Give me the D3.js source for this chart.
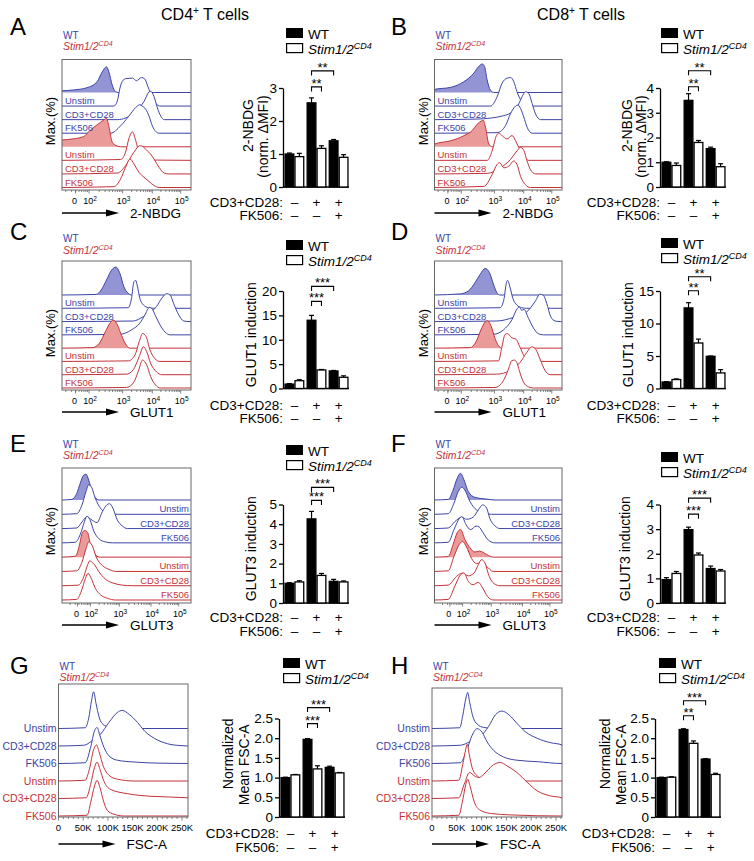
<!DOCTYPE html>
<html>
<head>
<meta charset="utf-8">
<script src="https://cdn.jsdelivr.net/npm/d3@7"></script>
<style>
  body { margin: 0; background: #fff; }
  svg { display: block; font-family: "Liberation Sans", Arial, Helvetica, sans-serif; }
</style>
</head>
<body>
<svg id="fig" width="754" height="861"></svg>
<script>
// ---- data ----
var condLabels = ["Unstim", "CD3+CD28", "FK506"];
var groups = ["unstim", "cd3", "fk506"];
var cd3Signs = ["–", "+", "+"];
var fkSigns = ["–", "–", "+"];

// bar values (mean, sem)
var wtA = [1.0, 2.55, 1.4],  wtErrA = [0.03, 0.15, 0.04], koA = [0.92, 1.17, 0.9],  koErrA = [0.1, 0.08, 0.08];
var wtB = [1.0, 3.5, 1.55],  wtErrB = [0.02, 0.27, 0.06], koB = [0.87, 1.8, 0.82],  koErrB = [0.1, 0.08, 0.12];
var wtC = [0.9, 14.0, 3.6],  wtErrC = [0.1, 1.0, 0.1],    koC = [1.6, 3.8, 2.3],    koErrC = [0.2, 0.1, 0.3];
var wtD = [1.0, 12.4, 4.95], wtErrD = [0.05, 0.8, 0.05],  koD = [1.38, 7.0, 2.4],   koErrD = [0.1, 0.6, 0.5];
var wtE = [1.0, 4.27, 1.1],  wtErrE = [0.03, 0.38, 0.1],  koE = [1.07, 1.4, 1.07],  koErrE = [0.06, 0.1, 0.05];
var wtF = [0.95, 2.98, 1.4], wtErrF = [0.08, 0.1, 0.1],   koF = [1.2, 1.95, 1.3],   koErrF = [0.08, 0.08, 0.06];
var wtG = [1.0, 1.97, 1.26], wtErrG = [0.01, 0.02, 0.03], koG = [1.07, 1.22, 1.12], koErrG = [0.01, 0.08, 0.01];
var wtH = [1.0, 2.22, 1.47], wtErrH = [0.01, 0.02, 0.01], koH = [1.01, 1.87, 1.08], koErrH = [0.01, 0.06, 0.03];

// histograms: [log10 intensity (or FSC in K), % of max]
// order: WT control(filled), WT Unstim, WT CD3+CD28, WT FK506, KO control(filled), KO Unstim, KO CD3+CD28, KO FK506
var histA = [
  [[1.19,6],[1.54,9],[1.94,17],[2.24,38],[2.39,72],[2.52,90],[2.59,72],[2.69,26],[2.79,3],[2.89,0]],
  [[2.74,0],[2.84,17],[2.92,63],[2.99,87],[3.10,96],[3.33,98],[3.47,89],[3.63,100],[3.74,96],[3.85,69],[4.0,28],[4.12,8],[4.3,0]],
  [[2.84,0],[3.38,23],[3.72,64],[3.89,97],[3.94,100],[4.06,81],[4.18,41],[4.30,12],[4.42,0]],
  [[2.64,0],[2.94,26],[3.21,60],[3.44,90],[3.58,100],[3.66,95],[3.78,84],[3.89,60],[4.0,26],[4.12,6],[4.24,0]],
  [[1.19,24],[1.54,28],[1.84,36],[2.04,59],[2.24,77],[2.44,94],[2.52,100],[2.59,71],[2.69,16],[2.79,5],[2.94,0]],
  [[2.94,3],[3.10,29],[3.21,76],[3.33,100],[3.44,70],[3.55,29],[3.66,17],[3.83,8],[4.06,1]],
  [[2.84,3],[3.10,29],[3.38,76],[3.58,99],[3.66,97],[3.83,81],[3.94,70],[4.06,52],[4.24,23],[4.42,3],[4.6,0]],
  [[2.74,3],[2.94,30],[3.10,71],[3.25,100],[3.38,83],[3.55,53],[3.72,36],[3.89,21],[4.06,7],[4.24,0]]
];
var histB = [
  [[1.2,11],[1.68,18],[2.08,38],[2.38,68],[2.53,92],[2.63,100],[2.70,92],[2.78,44],[2.88,8],[2.98,0]],
  [[2.88,0],[3.09,32],[3.26,80],[3.43,98],[3.55,100],[3.66,86],[3.77,50],[3.94,14],[4.12,0]],
  [[2.48,2],[3.32,14],[3.77,44],[3.94,80],[4.06,98],[4.18,92],[4.30,56],[4.42,20],[4.6,0]],
  [[3.09,2],[3.38,27],[3.55,69],[3.72,95],[3.80,99],[3.89,87],[4.0,57],[4.12,21],[4.30,0]],
  [[1.2,10],[1.68,21],[2.08,39],[2.33,57],[2.48,79],[2.60,90],[2.66,93],[2.73,69],[2.83,10],[2.93,0]],
  [[2.78,0],[2.93,33],[3.07,87],[3.15,95],[3.26,87],[3.43,75],[3.60,87],[3.72,69],[3.83,45],[4.0,15],[4.18,0]],
  [[2.78,2],[3.2,21],[3.55,51],[3.77,81],[3.89,93],[4.0,83],[4.12,45],[4.24,15],[4.42,0]],
  [[2.68,4],[2.93,45],[3.09,81],[3.18,87],[3.32,69],[3.49,75],[3.66,93],[3.77,81],[3.89,39],[4.06,10],[4.24,0]]
];
var histC = [
  [[2.21,2],[2.36,18],[2.52,54],[2.67,89],[2.80,100],[2.92,77],[3.04,30],[3.19,6],[3.30,0]],
  [[3.19,2],[3.30,36],[3.38,95],[3.44,100],[3.49,83],[3.58,36],[3.70,12],[3.87,2],[4.04,0]],
  [[3.36,2],[3.70,18],[3.98,36],[4.15,54],[4.33,83],[4.51,100],[4.63,95],[4.75,65],[4.93,24],[5.11,2],[5.29,0]],
  [[2.92,2],[3.30,18],[3.58,42],[3.75,71],[3.90,98],[3.98,95],[4.10,71],[4.27,36],[4.45,10],[4.63,0]],
  [[2.11,2],[2.31,18],[2.49,60],[2.62,89],[2.72,100],[2.82,89],[2.94,54],[3.08,18],[3.25,0]],
  [[3.19,2],[3.42,24],[3.56,71],[3.67,100],[3.79,89],[3.92,42],[4.09,10],[4.27,0]],
  [[3.13,2],[3.36,18],[3.56,65],[3.70,100],[3.81,83],[3.94,42],[4.15,10],[4.33,0]],
  [[3.13,2],[3.36,18],[3.53,60],[3.67,100],[3.81,83],[3.94,42],[4.12,10],[4.27,0]]
];
var histD = [
  [[1.97,4],[2.22,15],[2.42,45],[2.57,74],[2.72,95],[2.85,80],[2.97,39],[3.08,9],[3.19,0]],
  [[3.19,2],[3.33,35],[3.40,88],[3.45,100],[3.53,76],[3.63,35],[3.76,12],[3.93,2],[4.11,0]],
  [[3.08,2],[3.65,15],[4.11,35],[4.40,71],[4.58,98],[4.70,94],[4.82,65],[4.96,18],[5.12,2],[5.30,0]],
  [[2.97,2],[3.31,18],[3.59,53],[3.78,94],[3.85,100],[3.93,88],[4.01,91],[4.17,59],[4.35,24],[4.52,4],[4.70,0]],
  [[2.27,2],[2.45,24],[2.59,65],[2.72,94],[2.79,98],[2.89,82],[3.02,35],[3.14,8],[3.25,0]],
  [[3.14,2],[3.25,49],[3.36,96],[3.44,100],[3.59,85],[3.74,79],[3.88,49],[4.01,20],[4.17,5],[4.29,0]],
  [[3.08,2],[3.53,15],[3.88,45],[4.11,80],[4.29,100],[4.44,89],[4.58,56],[4.76,15],[4.94,0]],
  [[3.02,2],[3.31,27],[3.48,68],[3.59,98],[3.68,100],[3.76,92],[3.85,62],[3.99,21],[4.17,4],[4.35,0]]
];
var histE = [
  [[1.36,2],[1.53,22],[1.65,56],[1.77,83],[1.85,86],[1.94,67],[2.06,28],[2.17,8],[2.29,0]],
  [[1.53,2],[1.71,31],[1.85,76],[1.94,98],[2.03,92],[2.17,53],[2.35,20],[2.52,6],[2.76,0]],
  [[1.53,2],[1.71,22],[1.88,39],[2.06,28],[2.23,20],[2.41,56],[2.58,80],[2.66,83],[2.78,67],[2.93,28],[3.09,9],[3.25,0]],
  [[1.48,2],[1.65,28],[1.80,72],[1.88,89],[1.98,78],[2.12,39],[2.29,14],[2.52,3],[2.76,0]],
  [[1.48,3],[1.62,39],[1.71,78],[1.80,89],[1.90,83],[2.0,44],[2.12,17],[2.23,3],[2.35,0]],
  [[1.53,2],[1.71,31],[1.85,76],[1.94,98],[2.06,87],[2.20,48],[2.41,20],[2.64,7],[2.87,0]],
  [[1.59,2],[1.77,30],[1.91,71],[1.98,83],[2.06,78],[2.15,69],[2.29,47],[2.52,22],[2.81,8],[3.09,2],[3.41,0]],
  [[1.53,2],[1.69,30],[1.83,72],[1.92,89],[2.03,72],[2.17,39],[2.35,17],[2.58,6],[2.87,0]]
];
var histF = [
  [[1.5,2],[1.67,33],[1.81,72],[1.93,89],[2.05,67],[2.20,28],[2.43,9],[2.84,3],[3.12,0]],
  [[1.5,2],[1.70,37],[1.85,76],[1.97,90],[2.08,81],[2.26,42],[2.49,14],[2.72,3],[3.01,0]],
  [[1.5,2],[1.73,23],[1.97,38],[2.14,31],[2.37,38],[2.55,62],[2.70,79],[2.84,68],[2.95,34],[3.12,9],[3.28,0]],
  [[1.5,2],[1.70,44],[1.88,80],[1.98,87],[2.12,61],[2.28,44],[2.47,56],[2.58,53],[2.72,33],[2.90,9],[3.12,0]],
  [[1.5,2],[1.67,42],[1.81,81],[1.93,92],[2.08,59],[2.26,31],[2.43,17],[2.60,20],[2.84,9],[3.06,0]],
  [[1.5,2],[1.70,50],[1.88,89],[2.0,100],[2.14,81],[2.31,44],[2.49,26],[2.66,30],[2.84,17],[3.06,0]],
  [[1.5,2],[1.79,31],[2.0,42],[2.20,33],[2.40,42],[2.55,70],[2.66,87],[2.78,76],[2.93,31],[3.09,7],[3.28,0]],
  [[1.5,2],[1.73,46],[1.93,84],[2.05,90],[2.20,62],[2.37,51],[2.55,59],[2.70,40],[2.87,12],[3.06,0]]
];
// FSC-A (in K), order: WT Unstim, WT CD3+CD28, WT FK506, KO Unstim, KO CD3+CD28, KO FK506
var histG = [
  [[54,2],[61,27],[67,77],[71,100],[76,68],[82,32],[88,14],[99,5],[116,0]],
  [[51,2],[68,14],[85,32],[102,64],[119,91],[129,97],[143,86],[160,64],[174,41],[194,21],[221,6],[248,1],[262,0]],
  [[54,2],[65,44],[73,89],[78,98],[84,75],[92,44],[102,21],[119,9],[153,4],[201,1],[262,0]],
  [[54,2],[63,35],[71,85],[77,98],[82,80],[91,39],[102,16],[119,5],[153,0]],
  [[56,2],[65,38],[73,85],[78,99],[84,79],[92,47],[105,25],[140,13],[187,6],[262,2]],
  [[58,2],[65,36],[73,82],[78,97],[84,77],[91,41],[99,15],[112,5],[133,0]]
];
var histH = [
  [[56,2],[62,35],[68,80],[72,98],[76,71],[83,30],[91,12],[104,3],[124,0]],
  [[57,2],[77,12],[97,25],[114,53],[128,85],[141,95],[155,85],[171,62],[188,39],[212,21],[239,9],[262,3]],
  [[57,2],[69,32],[81,77],[91,95],[101,85],[111,59],[124,36],[144,18],[171,9],[212,5],[262,0]],
  [[54,2],[62,45],[68,86],[71,100],[75,73],[81,36],[91,14],[104,5],[124,0]],
  [[54,2],[65,39],[76,71],[85,62],[94,57],[111,75],[124,92],[138,98],[151,89],[171,71],[192,44],[212,21],[239,7],[262,2]],
  [[54,2],[62,44],[68,85],[72,100],[77,80],[85,39],[97,16],[118,7],[158,3],[262,0]]
];
var fscTicks = [0, 50, 100, 150, 200, 250];
var logTicks = [2, 3, 4, 5];

// ---- styles / layout ----
var BLUE = "#3c44a6", RED = "#c43239", BLUE_FILL = "#9394d4", RED_FILL = "#eb9a9a";

var logAxes = {
  log4: { dom: [1.19, 2, 3, 4, 5, 5.36], frac: [0, .21, .47, .70, .92, 1], zero: .105 },
  log3: { dom: [1.02, 2, 3, 4, 5, 5.44], frac: [0, .22, .445, .69, .905, 1], zero: .12 }
};

var cols = [
  { letter: 10, hx0: 62, hx1: 191, ax: 283, leg: 286, maxX: 54.5 },
  { letter: 391, hx0: 434.5, hx1: 562, ax: 660, leg: 661, maxX: 428 }
];
var rows = [
  { letter: 35, wt: 39, stim: 49.5, top: 59.5, bottom: 190, s0: 92.5, sN: 187.5, y0: 187, y1: 88, arrow: 213, xl1: 207, xl2: 220, maxY: 121 },
  { letter: 240, wt: 242, stim: 254, top: 261, bottom: 390, s0: 295, sN: 388, y0: 388.5, y1: 291, arrow: 412, xl1: 410, xl2: 423, maxY: 333 },
  { letter: 452, wt: 447.5, stim: 459, top: 468, bottom: 603, s0: 500, sN: 600, y0: 603, y1: 504.5, arrow: 625, xl1: 622, xl2: 636, maxY: 531 },
  { letter: 674, wt: 670, stim: 681, top: 684, bottom: 817, s0: 728.5, sN: 816, y0: 817, y1: 718.5, arrow: 844, xl1: 838, xl2: 852 }
];

var panels = [
  { id: "A", col: 0, row: 0, hist: histA, axis: "log4", lab: "left", xTitle: "2-NBDG",
    wt: wtA, wtErr: wtErrA, ko: koA, koErr: koErrA, yMax: 3, yStep: 1, leg: 28,
    yTitle: ["2-NBDG", "(norm. ΔMFI)"], yTitleX: [253, 268], yTitleOff: [-12, -1], stars: ["**", "**"], gaps: [11, 27] },
  { id: "B", col: 1, row: 0, hist: histB, axis: "log4", lab: "left", xTitle: "2-NBDG",
    wt: wtB, wtErr: wtErrB, ko: koB, koErr: koErrB, yMax: 4, yStep: 1, leg: 28,
    yTitle: ["2-NBDG", "(norm. ΔMFI)"], yTitleX: [632, 646], yTitleOff: [-12, -1], stars: ["**", "**"], gaps: [7, 23] },
  { id: "C", col: 0, row: 1, hist: histC, axis: "log4", lab: "left", xTitle: "GLUT1",
    wt: wtC, wtErr: wtErrC, ko: koC, koErr: koErrC, yMax: 20, yStep: 5, leg: 240,
    yTitle: ["GLUT1 induction"], yTitleX: [256], yTitleOff: [-5], stars: ["***", "***"], gaps: [14, 29] },
  { id: "D", col: 1, row: 1, hist: histD, axis: "log4", lab: "left", xTitle: "GLUT1",
    wt: wtD, wtErr: wtErrD, ko: koD, koErr: koErrD, yMax: 15, yStep: 5, leg: 238,
    yTitle: ["GLUT1 induction"], yTitleX: [633], yTitleOff: [-5], stars: ["**", "**"], gaps: [12, 26] },
  { id: "E", col: 0, row: 2, hist: histE, axis: "log3", lab: "right", xTitle: "GLUT3",
    wt: wtE, wtErr: wtErrE, ko: koE, koErr: koErrE, yMax: 5, yStep: 1, leg: 445,
    yTitle: ["GLUT3 induction"], yTitleX: [256], yTitleOff: [-5], stars: ["***", "***"], gaps: [11, 24] },
  { id: "F", col: 1, row: 2, hist: histF, axis: "log3", lab: "right", xTitle: "GLUT3",
    wt: wtF, wtErr: wtErrF, ko: koF, koErr: koErrF, yMax: 4, yStep: 1, leg: 452,
    yTitle: ["GLUT3 induction"], yTitleX: [629.5], yTitleOff: [-5], stars: ["***", "***"], gaps: [13, 29] },
  { id: "G", col: 0, row: 3, hist: histG, axis: "lin", lab: "outside", xTitle: "FSC-A",
    wt: wtG, wtErr: wtErrG, ko: koG, koErr: koErrG, yMax: 2.5, yStep: 0.5, leg: 658,
    yTitle: ["Normalized", "Mean FSC-A"], yTitleX: [233, 249], yTitleOff: [-14, -3], stars: ["***", "***"], gaps: [15, 31],
    hx0: 58.5, hx1: 188, ax: 279, leg_x: 283 },
  { id: "H", col: 1, row: 3, hist: histH, axis: "lin", lab: "outside", xTitle: "FSC-A",
    wt: wtH, wtErr: wtErrH, ko: koH, koErr: koErrH, yMax: 2.5, yStep: 0.5, leg: 658,
    yTitle: ["Normalized", "Mean FSC-A"], yTitleX: [610, 626], yTitleOff: [-14, -3], stars: ["**", "***"], gaps: [13, 28],
    hx0: 432, hx1: 562, ax: 655, leg_x: 659, top: 688 }
];

var svg = d3.select("#fig");

function supLabel(t, base, sup, supSize, shift, after) {
  t.append("tspan").text(base);
  t.append("tspan").attr("dy", -shift).attr("font-size", supSize).text(sup);
  if (after) t.append("tspan").attr("dy", shift).text(after);
}

// column titles
supLabel(svg.append("text").attr("x", 205).attr("y", 20).attr("text-anchor", "middle").attr("font-size", 16), "CD4", "+", 10, 6, " T cells");
supLabel(svg.append("text").attr("x", 581).attr("y", 20).attr("text-anchor", "middle").attr("font-size", 16), "CD8", "+", 10, 6, " T cells");

panels.forEach(function(p) {
  var c = cols[p.col], r = rows[p.row];
  var g = svg.append("g");
  var hx0 = p.hx0 || c.hx0, hx1 = p.hx1 || c.hx1;
  var top = p.top || r.top;

  g.append("text").attr("x", c.letter).attr("y", r.letter).attr("font-size", 24).text(p.id);

  // WT / Stim header
  g.append("text").attr("x", hx0 + 1).attr("y", r.wt).attr("font-size", 10).attr("fill", BLUE).text("WT");
  supLabel(g.append("text").attr("x", hx0 + 1).attr("y", r.stim).attr("font-size", 10.5)
    .attr("font-style", "italic").attr("fill", RED), "Stim1/2", "CD4", 7, 4);

  // ---- histogram ----
  var x;
  if (p.axis === "lin") {
    x = d3.scaleLinear().domain([0, 262.144]).range([hx0, hx1]);
  } else {
    var la = logAxes[p.axis];
    x = d3.scaleLinear().domain(la.dom).range(la.frac.map(function(f) { return hx0 + f * (hx1 - hx0); }));
  }
  var dom = x.domain(), dMin = dom[0], dMax = dom[dom.length - 1];
  var n = p.hist.length;
  var sp = (r.sN - r.s0) / (n - 1);
  var hMax = 2.1 * sp;

  var clipId = "clip" + p.id;
  g.append("clipPath").attr("id", clipId).append("rect")
    .attr("x", hx0).attr("y", top).attr("width", hx1 - hx0).attr("height", r.bottom - top);
  var hg = g.append("g").attr("clip-path", "url(#" + clipId + ")");

  p.hist.forEach(function(curve, i) {
    var base = r.s0 + i * sp;
    var isWT = i < n / 2;
    var filled = p.axis !== "lin" && i % 4 === 0;
    var pts = curve.slice();
    if (pts[0][0] > dMin) pts.unshift([dMin, 0]);
    if (pts[pts.length - 1][0] < dMax) pts.push([dMax, 0]);
    var yv = function(d) { return base - d[1] / 100 * hMax; };
    var area = d3.area().x(function(d) { return x(d[0]); }).y0(base).y1(yv).curve(d3.curveMonotoneX);
    var line = d3.line().x(function(d) { return x(d[0]); }).y(yv).curve(d3.curveMonotoneX);
    hg.append("path").attr("d", area(pts))
      .attr("fill", filled ? (isWT ? BLUE_FILL : RED_FILL) : "#fff");
    hg.append("path").attr("d", line(pts)).attr("fill", "none")
      .attr("stroke", isWT ? BLUE : RED).attr("stroke-width", 1);
  });

  g.append("rect").attr("x", hx0).attr("y", top).attr("width", hx1 - hx0).attr("height", r.bottom - top)
    .attr("fill", "none").attr("stroke", "#666").attr("stroke-width", 1);

  // condition labels
  p.hist.forEach(function(curve, i) {
    var base = r.s0 + i * sp;
    var isWT = i < n / 2;
    var name;
    if (p.axis === "lin") name = condLabels[i % 3];
    else if (i % 4 === 0) return;
    else name = condLabels[(i % 4) - 1];
    var t = g.append("text").attr("font-size", p.axis === "lin" ? 10.5 : 9.5)
      .attr("fill", isWT ? BLUE : RED).text(name);
    if (p.lab === "left") t.attr("x", hx0 + 3).attr("y", base - 2);
    else if (p.lab === "right") t.attr("x", hx1 - 2).attr("y", base - 2).attr("text-anchor", "end");
    else t.attr("x", hx0 - 2).attr("y", base + 3.5).attr("text-anchor", "end");
  });

  // x ticks
  var by = r.bottom;
  var tickG = g.append("g").attr("stroke", "#666").attr("stroke-width", 0.8);
  if (p.axis === "lin") {
    d3.range(0, 261, 10).forEach(function(v) {
      var major = v % 50 === 0;
      tickG.append("line").attr("x1", x(v)).attr("x2", x(v)).attr("y1", by).attr("y2", by + (major ? 3.5 : 2));
    });
    fscTicks.forEach(function(v) {
      g.append("text").attr("x", x(v)).attr("y", by + 14).attr("text-anchor", "middle").attr("font-size", 9.5)
        .text(v === 0 ? "0" : v + "K");
    });
  } else {
    var la2 = logAxes[p.axis];
    var zx = hx0 + la2.zero * (hx1 - hx0);
    tickG.append("line").attr("x1", zx).attr("x2", zx).attr("y1", by).attr("y2", by + 3.5);
    d3.range(1, 5).forEach(function(dec) {
      d3.range(2, 10).forEach(function(k) {
        var v = dec + Math.log10(k);
        if (v > dMin && v < dMax) tickG.append("line").attr("x1", x(v)).attr("x2", x(v)).attr("y1", by).attr("y2", by + 2);
      });
    });
    logTicks.forEach(function(v) {
      tickG.append("line").attr("x1", x(v)).attr("x2", x(v)).attr("y1", by).attr("y2", by + 3.5);
      supLabel(g.append("text").attr("x", x(v) + 1).attr("y", by + 14).attr("text-anchor", "middle").attr("font-size", 9),
        "10", String(v), 6.5, 3.5);
    });
    g.append("text").attr("x", zx - 1).attr("y", by + 14).attr("text-anchor", "middle").attr("font-size", 9).text("0");
    // Max.(%)
    g.append("text").attr("transform", "translate(" + c.maxX + "," + r.maxY + ") rotate(-90)")
      .attr("text-anchor", "middle").attr("font-size", 13).text("Max.(%)");
  }

  // arrow + x title
  var ay = r.arrow, aEnd = hx0 + 57;
  g.append("line").attr("x1", hx0).attr("x2", aEnd - 8).attr("y1", ay).attr("y2", ay)
    .attr("stroke", "#000").attr("stroke-width", 1.4);
  g.append("path").attr("d", "M" + (aEnd - 13) + "," + (ay - 3.5) + "L" + aEnd + "," + ay + "L" + (aEnd - 13) + "," + (ay + 3.5) + "Z")
    .attr("fill", "#000");
  g.append("text").attr("x", hx0 + 68).attr("y", ay + 5).attr("font-size", 13.5).text(p.xTitle);

  // ---- bar chart ----
  var ax = p.ax || c.ax;
  var y = d3.scaleLinear().domain([0, p.yMax]).range([r.y0, r.y1]);
  var xg = d3.scaleBand().domain(groups).range([ax + 1, ax + 66]).paddingInner(0.1).paddingOuter(0.02);
  var xs = d3.scaleBand().domain(["wt", "ko"]).range([0, xg.bandwidth()]);
  var bw = xs.bandwidth();

  var fmt = p.yStep < 1 ? function(d) { return d === 0 ? "0" : d3.format(".1f")(d); } : d3.format("d");
  var yAxis = g.append("g").attr("transform", "translate(" + ax + ",0)")
    .call(d3.axisLeft(y).tickValues(d3.range(0, p.yMax + 1e-9, p.yStep)).tickSize(4).tickSizeOuter(0).tickPadding(2).tickFormat(fmt));
  yAxis.selectAll("path,line").attr("stroke", "#000").attr("stroke-width", 1.3);
  yAxis.selectAll("text").attr("font-size", 13.5).attr("font-family", null).attr("fill", "#000");
  g.append("line").attr("x1", ax).attr("x2", ax + 66).attr("y1", r.y0).attr("y2", r.y0)
    .attr("stroke", "#000").attr("stroke-width", 1.3);

  var series = [
    { key: "wt", vals: p.wt, errs: p.wtErr, fill: "#000" },
    { key: "ko", vals: p.ko, errs: p.koErr, fill: "#fff" }
  ];
  series.forEach(function(s) {
    groups.forEach(function(gr, gi) {
      var bx = xg(gr) + xs(s.key), v = s.vals[gi], e = s.errs[gi], cx = bx + bw / 2;
      g.append("line").attr("x1", cx).attr("x2", cx).attr("y1", y(v)).attr("y2", y(v + e))
        .attr("stroke", "#000").attr("stroke-width", 1.2);
      g.append("line").attr("x1", cx - 2.5).attr("x2", cx + 2.5).attr("y1", y(v + e)).attr("y2", y(v + e))
        .attr("stroke", "#000").attr("stroke-width", 1.2);
      g.append("rect").attr("x", bx + 0.6).attr("y", y(v)).attr("width", bw - 1.2).attr("height", r.y0 - y(v))
        .attr("fill", s.fill).attr("stroke", "#000").attr("stroke-width", 1.3);
    });
  });

  // significance brackets
  var cWT2 = xg(groups[1]) + xs("wt") + bw / 2, cKO2 = xg(groups[1]) + xs("ko") + bw / 2,
      cWT3 = xg(groups[2]) + xs("wt") + bw / 2;
  var topVal = Math.max(p.wt[1] + p.wtErr[1], p.ko[1] + p.koErr[1], p.wt[2] + p.wtErr[2]);
  var ty = y(topVal);
  [[cWT2, cKO2, ty - p.gaps[0], p.stars[0]], [cWT2, cWT3, ty - p.gaps[1], p.stars[1]]].forEach(function(b) {
    g.append("path").attr("d", "M" + b[0] + "," + (b[2] + 4.5) + "V" + b[2] + "H" + b[1] + "V" + (b[2] + 4.5))
      .attr("fill", "none").attr("stroke", "#000").attr("stroke-width", 1.1);
    g.append("text").attr("x", (b[0] + b[1]) / 2).attr("y", b[2] + 1).attr("text-anchor", "middle")
      .attr("font-size", 13).text(b[3]);
  });

  // y title
  p.yTitle.forEach(function(t, k) {
    g.append("text").attr("transform", "translate(" + p.yTitleX[k] + "," + ((r.y0 + r.y1) / 2 + p.yTitleOff[k]) + ") rotate(-90)")
      .attr("text-anchor", "middle").attr("font-size", 14).text(t);
  });

  // condition rows under bars
  g.append("text").attr("x", ax).attr("y", r.xl1).attr("text-anchor", "end").attr("font-size", 13.5).text("CD3+CD28:");
  g.append("text").attr("x", ax).attr("y", r.xl2).attr("text-anchor", "end").attr("font-size", 13.5).text("FK506:");
  groups.forEach(function(gr, gi) {
    var cx = xg(gr) + xg.bandwidth() / 2;
    g.append("text").attr("x", cx).attr("y", r.xl1).attr("text-anchor", "middle").attr("font-size", 13.5).text(cd3Signs[gi]);
    g.append("text").attr("x", cx).attr("y", r.xl2).attr("text-anchor", "middle").attr("font-size", 13.5).text(fkSigns[gi]);
  });

  // legend
  var lx = p.leg_x || c.leg, ly = p.leg;
  g.append("rect").attr("x", lx).attr("y", ly).attr("width", 17).attr("height", 10).attr("fill", "#000");
  g.append("rect").attr("x", lx + 0.6).attr("y", ly + 15.6).attr("width", 16).attr("height", 9).attr("fill", "#fff")
    .attr("stroke", "#000").attr("stroke-width", 1.2);
  g.append("text").attr("x", lx + 22).attr("y", ly + 10.5).attr("font-size", 13.5).text("WT");
  supLabel(g.append("text").attr("x", lx + 22).attr("y", ly + 25.5).attr("font-size", 13.5).attr("font-style", "italic"),
    "Stim1/2", "CD4", 9, 5);
});
</script>
</body>
</html>
